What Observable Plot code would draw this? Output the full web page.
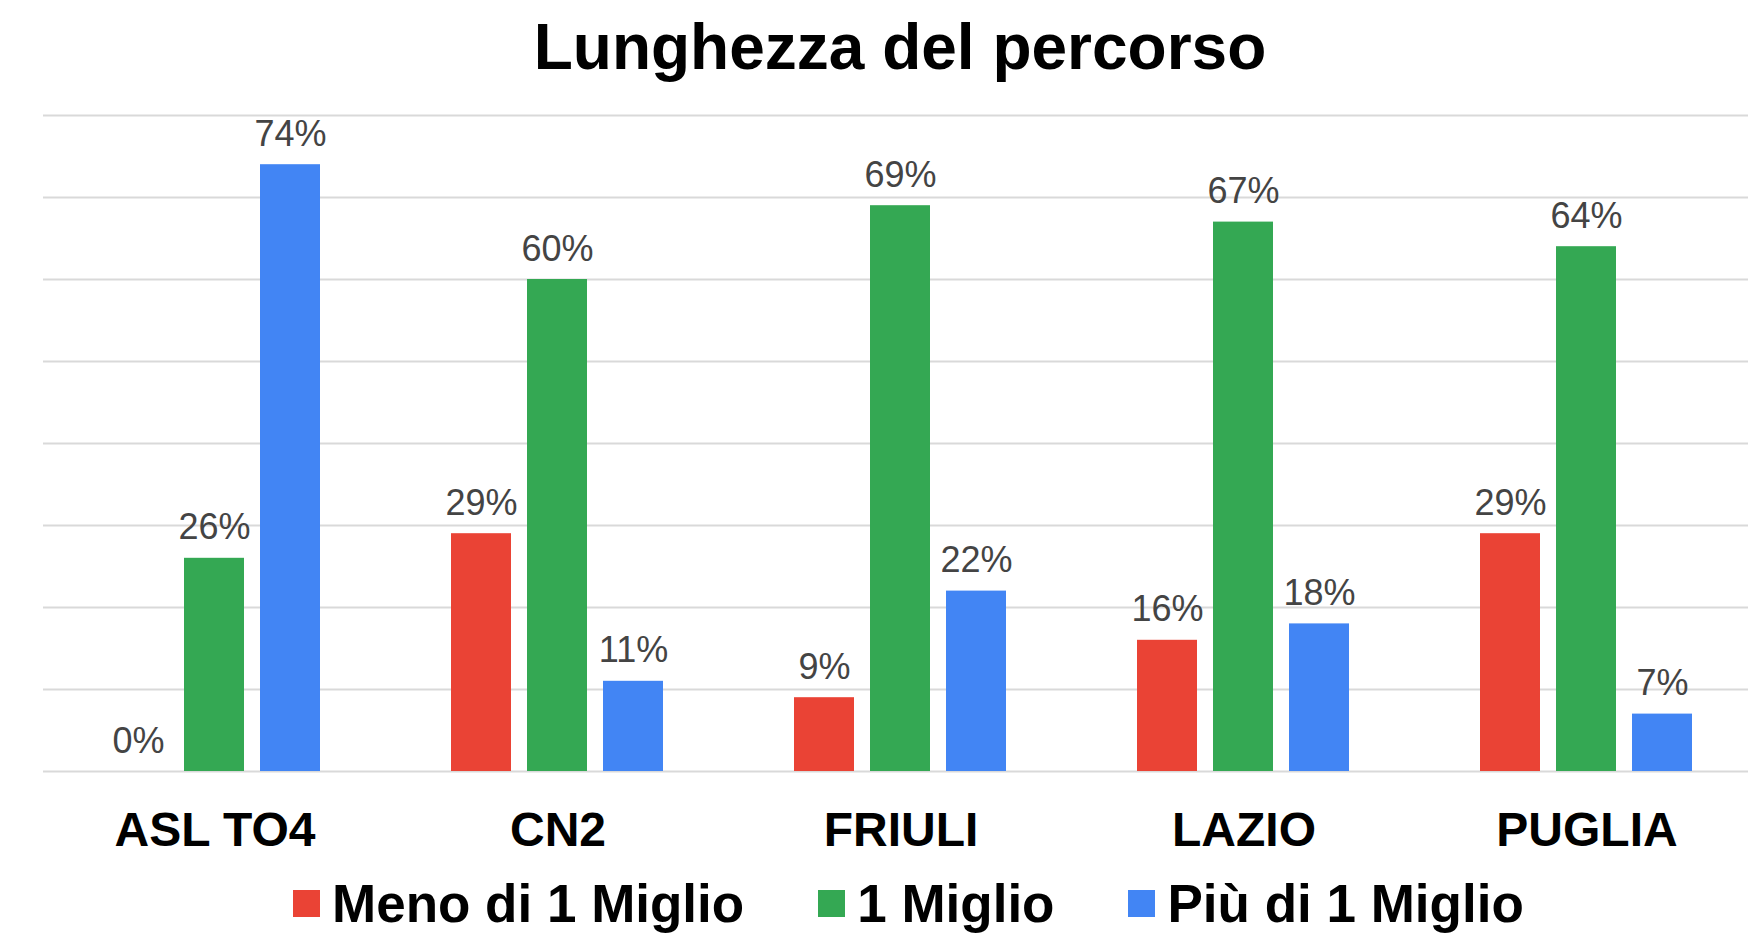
<!DOCTYPE html>
<html><head><meta charset="utf-8">
<script src="https://cdn.jsdelivr.net/npm/d3@7"></script>
<script src="https://cdn.jsdelivr.net/npm/@observablehq/plot@0.6"></script>
<style>
html,body{margin:0;padding:0;background:#fff;overflow:hidden;width:1748px;height:935px;}
body{position:relative;font-family:"Liberation Sans",Arial,sans-serif;}
#title{position:absolute;left:0;top:0;width:1800px;height:100px;text-align:center;font-size:64px;font-weight:bold;line-height:94px;color:#000;}
#chart{position:absolute;left:0;top:100px;width:1748px;height:776px;overflow:hidden;}
#legend{position:absolute;left:293px;top:876px;height:55px;line-height:55px;display:flex;align-items:center;font-size:53px;font-weight:bold;color:#000;white-space:nowrap;}
.item{display:flex;align-items:center;margin-right:74px;}
.sw{width:27px;height:27px;margin-right:12px;}
</style></head>
<body>
<div id="title">Lunghezza del percorso</div>
<div id="chart"></div>
<div id="legend"></div>
<script>
const categories = ["ASL TO4", "CN2", "FRIULI", "LAZIO", "PUGLIA"];
const series = ["Meno di 1 Miglio", "1 Miglio", "Più di 1 Miglio"];
const menoDi1Miglio = [0, 29, 9, 16, 29];
const unMiglio = [26, 60, 69, 67, 64];
const piuDi1Miglio = [74, 11, 22, 18, 7];
const colors = ["#EA4335", "#34A853", "#4285F4"];
const gridTicks = [0, 10, 20, 30, 40, 50, 60, 70, 80];

const valuesBySeries = [menoDi1Miglio, unMiglio, piuDi1Miglio];
const rows = [];
categories.forEach((c, i) => {
  series.forEach((s, j) => rows.push({cat: c, series: s, value: valuesBySeries[j][i]}));
});

const chart = Plot.plot({
  width: 1760, height: 776,
  marginLeft: 41, marginRight: 0, marginTop: 15, marginBottom: 105,
  style: {maxWidth: "none", fontFamily: "'Liberation Sans', Arial, sans-serif", background: "#fff"},
  fx: {domain: categories, padding: 0, label: null},
  x: {domain: series, paddingInner: 0.204, paddingOuter: 0.85, axis: null},
  y: {domain: [0, 80], axis: null},
  color: {domain: series, range: colors},
  marks: [
    Plot.gridY(gridTicks, {stroke: "#d9d9d9", strokeOpacity: 1, strokeWidth: 2}),
    Plot.barY(rows, {fx: "cat", x: "series", y: "value", fill: "series"}),
    Plot.text(rows, {fx: "cat", x: "series", y: "value", text: d => d.value + "%", lineAnchor: "bottom", dy: -19, fontSize: 36, fill: "#444"}),
    Plot.axisFx({anchor: "bottom", tickSize: 0, tickPadding: 74, lineAnchor: "bottom", fontSize: 48, fontWeight: "bold", color: "#000", label: null})
  ]
});
document.getElementById("chart").appendChild(chart);

const legend = document.getElementById("legend");
series.forEach((s, j) => {
  const it = document.createElement("div");
  it.className = "item";
  const sw = document.createElement("span");
  sw.className = "sw";
  sw.style.background = colors[j];
  const t = document.createElement("span");
  t.textContent = s;
  it.appendChild(sw); it.appendChild(t);
  legend.appendChild(it);
});
</script>
</body></html>
